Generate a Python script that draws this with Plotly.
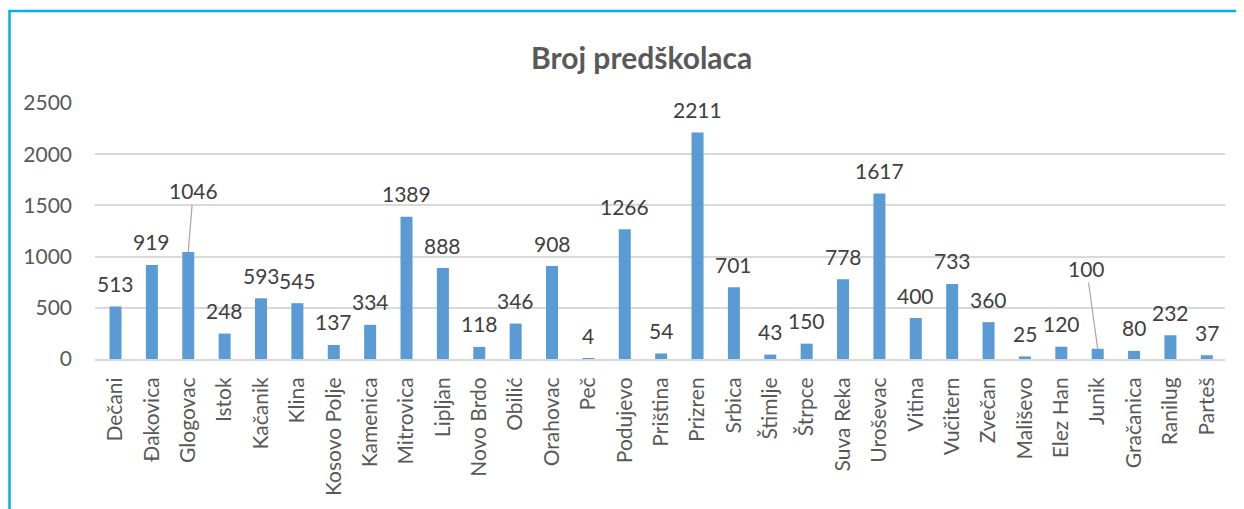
import plotly.graph_objects as go

categories = ["Dečani", "Đakovica", "Glogovac", "Istok", "Kačanik", "Klina", "Kosovo Polje",
              "Kamenica", "Mitrovica", "Lipljan", "Novo Brdo", "Obilić", "Orahovac", "Peč",
              "Podujevo", "Priština", "Prizren", "Srbica", "Štimlje", "Štrpce", "Suva Reka",
              "Uroševac", "Vitina", "Vučitern", "Zvečan", "Mališevo", "Elez Han", "Junik",
              "Gračanica", "Ranilug", "Parteš"]
values = [513, 919, 1046, 248, 593, 545, 137, 334, 1389, 888, 118, 346, 908, 4,
          1266, 54, 2211, 701, 43, 150, 778, 1617, 400, 733, 360, 25, 120, 100,
          80, 232, 37]
y_ticks = [0, 500, 1000, 1500, 2000, 2500]
title_text = "Broj predškolaca"
leader_labels = {"Glogovac": (5, -61), "Junik": (-11, -80)}

FONT = "Lato"
OFF = 8  # page body margin offset
W, H = 1244 - OFF, 509 - OFF
fig = go.Figure()
fig.add_trace(go.Bar(x=categories, y=values, marker=dict(color="#5B9BD5", line=dict(width=0)),
                     hoverinfo="x+y"))

annotations = []
for c, v in zip(categories, values):
    if c in leader_labels:
        ax, ay = leader_labels[c]
        annotations.append(dict(x=c, y=v, xref="x", yref="y", text=str(v), showarrow=True,
                                arrowhead=0, arrowwidth=1.2, arrowcolor="#A6A6A6",
                                ax=ax, ay=ay, axref="pixel", ayref="pixel", standoff=0,
                                font=dict(family=FONT, size=21, color="#404040")))
    else:
        annotations.append(dict(x=c, y=v, xref="x", yref="y", text=str(v), showarrow=False,
                                yanchor="middle", yshift=23,
                                font=dict(family=FONT, size=21, color="#404040")))

plot_left, plot_right, plot_top, plot_bottom = 95 - OFF, 1225 - OFF, 103 - OFF, 359 - OFF
pw, ph = plot_right - plot_left, plot_bottom - plot_top

annotations.append(dict(x=(641.5 - 95) / 1130, y=1.0, xref="paper", yref="paper", yshift=46,
                        text="<b>" + title_text + "</b>", showarrow=False, yanchor="middle",
                        font=dict(family=FONT, size=30, color="#595959")))

fig.update_layout(
    width=W, height=H,
    margin=dict(l=plot_left, r=W - plot_right, t=plot_top, b=H - plot_bottom),
    paper_bgcolor="white", plot_bgcolor="white",
    showlegend=False, bargap=0.67,
    annotations=annotations,
    font=dict(family=FONT, color="#595959"),
    xaxis=dict(tickangle=-90, tickfont=dict(family=FONT, size=21, color="#595959"),
               showgrid=False, showline=True, linecolor="#D9D9D9", linewidth=2,
               ticks="", ticklabelstandoff=8),
    yaxis=dict(range=[0, 2500], tickvals=y_ticks, tickfont=dict(family=FONT, size=21, color="#595959"),
               showgrid=True, gridcolor="#D9D9D9", gridwidth=1.5, zeroline=False,
               showline=False, ticks="", ticklabelstandoff=22),
    shapes=[dict(type="rect", xref="paper", yref="paper",
                 x0=(1.5 - plot_left) / pw, x1=1.2, y0=-1.0, y1=(plot_bottom - 3) / ph,
                 line=dict(color="#00B0F0", width=2.5), fillcolor="rgba(0,0,0,0)", layer="above")],
)

fig.write_html("out.html", config={"displayModeBar": False})
